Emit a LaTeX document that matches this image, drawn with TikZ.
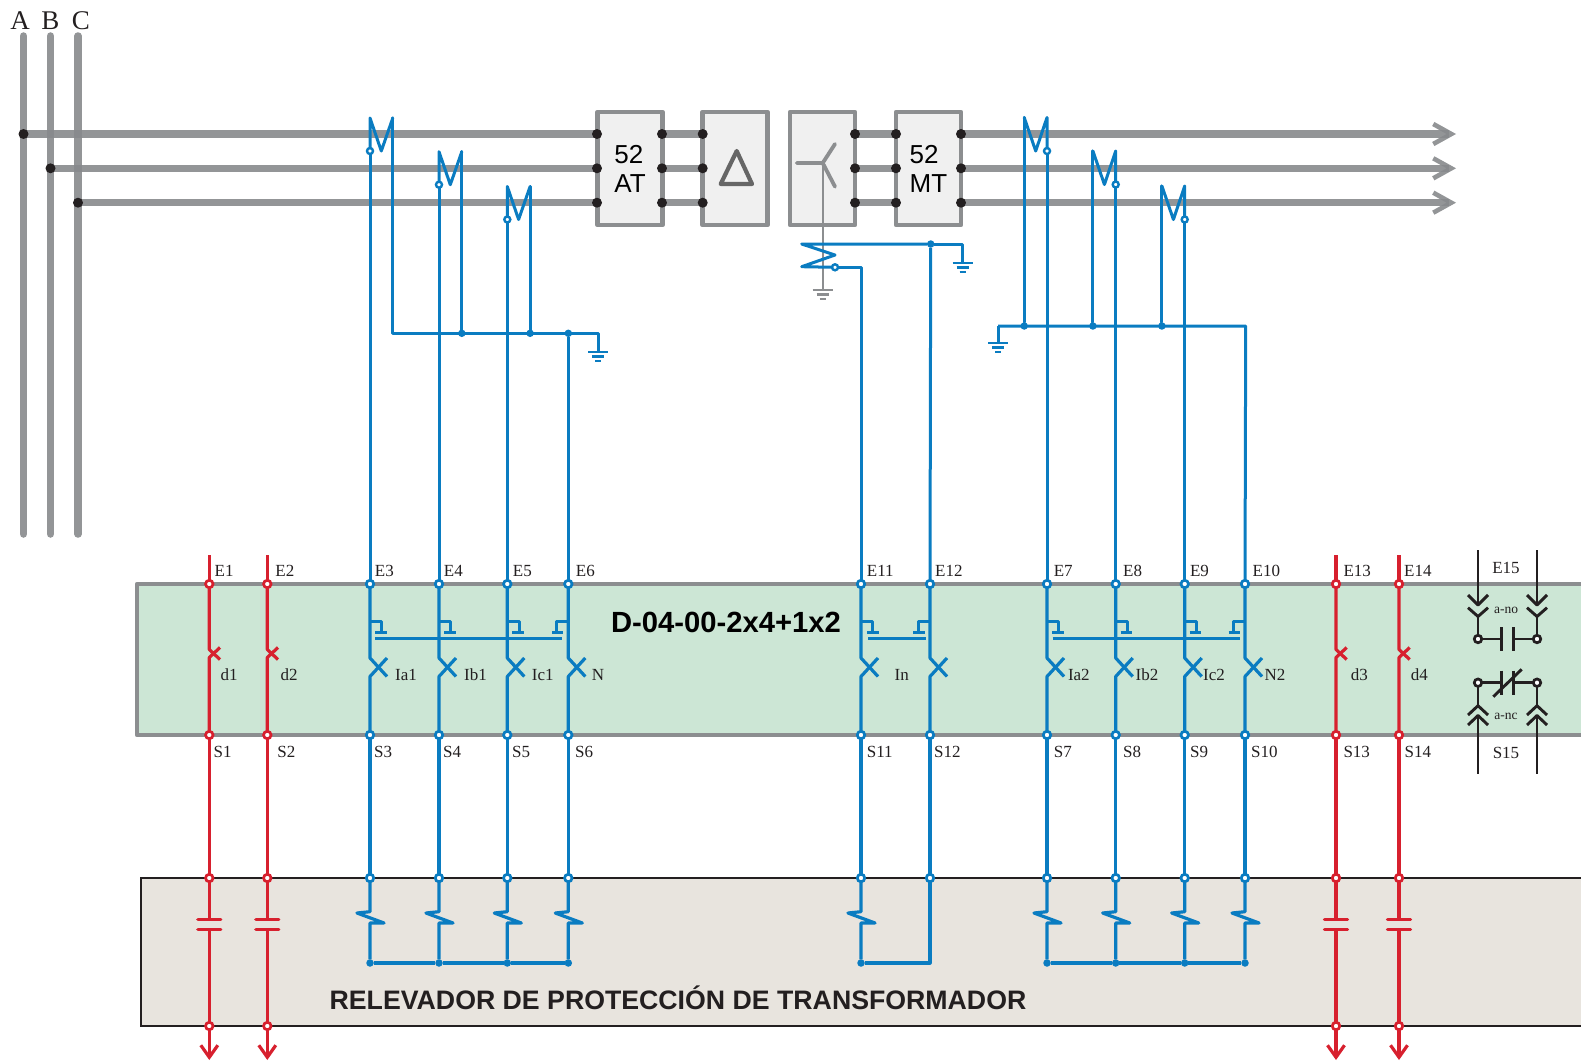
\documentclass[tikz,border=0pt]{standalone}
\usepackage{fontspec}
\setmainfont{Liberation Serif}
\newfontfamily\labelsans{Liberation Sans}
\usetikzlibrary{arrows.meta}
\definecolor{busgray}{HTML}{87898C}
\definecolor{boxgray}{HTML}{8C8E90}
\definecolor{blueline}{HTML}{0A7CC1}
\definecolor{redline}{HTML}{D7202E}
\definecolor{greenbox}{HTML}{CCE6D5}
\definecolor{relaybox}{HTML}{E8E4DE}
\definecolor{inkblack}{HTML}{231F20}
\tikzset{
  bus/.style={busgray, line width=7.5pt, opacity=0.9},
  breakerbox/.style={draw=boxgray, fill=gray!12, line width=4.4pt, line join=round},
  bdot/.style={circle, fill=inkblack, inner sep=0pt, outer sep=0pt, minimum size=10pt},
  sdot/.style={circle, fill=blueline, inner sep=0pt, outer sep=0pt, minimum size=7.5pt},
  bterm/.style={circle, draw=blueline, fill=white, line width=2.7pt, inner sep=0pt, outer sep=0pt, minimum size=7.5pt},
  rterm/.style={circle, draw=redline, fill=white, line width=2.7pt, inner sep=0pt, outer sep=0pt, minimum size=7.5pt},
  kterm/.style={circle, draw=inkblack, fill=white, line width=2.7pt, inner sep=0pt, outer sep=0pt, minimum size=7.5pt},
  bwire/.style={blueline, line width=3.2pt, line join=round},
  bthin/.style={blueline, line width=3pt, line join=round},
  rwire/.style={redline, line width=3.2pt, line join=round},
  kwire/.style={inkblack, line width=2.9pt, line join=round},
  lab/.style={font=\fontsize{17}{18}\selectfont, text=inkblack, inner sep=0pt, anchor=west},
  ctr/.style={font=\fontsize{17}{18}\selectfont, text=inkblack, inner sep=0pt},
  small/.style={font=\fontsize{13.5}{15}\selectfont, text=inkblack, inner sep=0pt}
}
\begin{document}
\begin{tikzpicture}[x=1pt, y=-1pt]
\useasboundingbox (0,0) rectangle (1581,1062);
% relay panels
\fill[greenbox] (137,584) rectangle (1581,735);
\draw[boxgray, line width=4.6pt, line join=round] (1581,584) -- (137,584) -- (137,735) -- (1581,735);
\fill[relaybox] (141,878) rectangle (1581,1026);
\draw[inkblack, line width=2.2pt] (1581,878) -- (141,878) -- (141,1026) -- (1581,1026);
% phases
\foreach \x in {23.5, 50.5, 78}
  \draw[bus, line cap=round] (\x,36) -- (\x,534);
\node[font=\fontsize{27}{28}\selectfont, text=inkblack, inner sep=0pt] (phA) at (20,20.5) {A};
\node[font=\fontsize{27}{28}\selectfont, text=inkblack, inner sep=0pt] (phB) at (50.5,20.5) {B};
\node[font=\fontsize{27}{28}\selectfont, text=inkblack, inner sep=0pt] (phC) at (81,20.5) {C};
% breakers and transformer
\node[breakerbox, minimum width=65pt, minimum height=113pt, inner sep=0pt, font=\labelsans\fontsize{26}{29}\selectfont, align=left] (at) at (630,168.5) {52\\AT};
\node[breakerbox, minimum width=65pt, minimum height=113pt] (dy) at (735,168.5) {};
\node[breakerbox, minimum width=65pt, minimum height=113pt] (st) at (822.5,168.5) {};
\node[breakerbox, minimum width=65pt, minimum height=113pt, inner sep=0pt, font=\labelsans\fontsize{26}{29}\selectfont, align=left] (mt) at (928.5,168.5) {52\\MT};
\draw[black!60, line width=4.2pt, line join=round] (736.7,151) -- (752,184) -- (720.7,184) -- cycle;
\draw[boxgray, line width=2.4pt] (822.7,163) -- (822.7,290);
\draw[boxgray, line width=3.8pt, line cap=round] (796.7,163) -- (822.7,163) -- (835,144) (822.7,163) -- (835,186.7);
% bus bars
\foreach \n/\y/\x in {1/134/23.5, 2/168.3/50.5, 3/202.7/78} {
  \coordinate (ph\n) at (\x,\y);
  \coordinate (atl\n) at (597,\y);
  \coordinate (atr\n) at (662,\y);
  \coordinate (dyl\n) at (702.7,\y);
  \coordinate (str\n) at (855,\y);
  \coordinate (mtl\n) at (896,\y);
  \coordinate (mtr\n) at (961,\y);
  \coordinate (end\n) at (1456,\y);
  \draw[bus] (ph\n) -- (atl\n);
  \draw[bus] (atr\n) -- (dyl\n);
  \draw[bus] (str\n) -- (mtl\n);
  \draw[busgray, line width=7pt, opacity=0.9, -{Straight Barb[length=18pt, width=20pt, line width=4.6pt]}] (mtr\n) -- (end\n);
  \foreach \d in {ph, atl, atr, dyl, str, mtl, mtr}
    \node[bdot] (dot\d\n) at (\d\n) {};
}
% terminals
\foreach \n/\x in {3/370, 4/439, 5/507.3, 6/568.3, 11/861, 12/930, 7/1047, 8/1115.7, 9/1184.7, 10/1245} {
  \node[bterm] (E\n) at (\x,584) {};
  \node[bterm] (S\n) at (\x,735) {};
  \node[bterm] (T\n) at (\x,878) {};
  \draw[bwire] (E\n) -- (\x,658) -- (\x+17,676.5);
  \draw[bwire] (\x+17,658) -- (\x,676.5) -- (S\n);
  \draw[bwire] (S\n) -- (T\n);
}
\foreach \n/\x in {1/209.3, 2/267.3, 13/1336, 14/1399} {
  \node[rterm] (E\n) at (\x,584) {};
  \node[rterm] (S\n) at (\x,735) {};
  \node[rterm] (T\n) at (\x,878) {};
  \node[rterm] (B\n) at (\x,1026) {};
  \coordinate (in\n) at (\x,555);
  \coordinate (out\n) at (\x,1060);
  \draw[rwire] (in\n) -- (E\n);
  \draw[rwire] (E\n) -- (\x,649.5) -- (\x+10.7,659.5);
  \draw[rwire] (\x+10.7,647.5) -- (\x,657.5) -- (S\n);
  \draw[rwire] (S\n) -- (T\n);
  \draw[rwire] (T\n) -- (\x,919.3);
  \draw[rwire, line cap=round] (\x-11.5,919.3) -- (\x+11.5,919.3) (\x-11.5,929.3) -- (\x+11.5,929.3);
  \draw[rwire] (\x,929.3) -- (B\n);
  \draw[rwire, -{Straight Barb[length=12pt, width=17pt]}] (B\n) -- (out\n);
}
% test blocks
\foreach \n/\x in {3/370, 4/439, 5/507.3} {
  \draw[bthin] (\x,621.7) -- (\x+11.7,621.7) -- (\x+11.7,632.7);
  \draw[bthin] (\x+5,632.7) -- (\x+16.7,632.7);
}
\draw[bthin] (568.3,621.7) -- (556.7,621.7) -- (556.7,632.7);
\draw[bthin] (552,632.7) -- (563,632.7);
\draw[bwire] (375,638.7) -- (562.3,638.7);
\draw[bthin] (861,621.7) -- (872.7,621.7) -- (872.7,632.7);
\draw[bthin] (867,632.7) -- (878.7,632.7);
\draw[bthin] (930,621.7) -- (918.3,621.7) -- (918.3,632.7);
\draw[bthin] (913,632.7) -- (925,632.7);
\draw[bwire] (868,638.7) -- (926,638.7);
\foreach \n/\x in {7/1047, 8/1115.7, 9/1184.7} {
  \draw[bthin] (\x,621.7) -- (\x+11.7,621.7) -- (\x+11.7,632.7);
  \draw[bthin] (\x+5,632.7) -- (\x+16.7,632.7);
}
\draw[bthin] (1245,621.7) -- (1233.3,621.7) -- (1233.3,632.7);
\draw[bthin] (1228.5,632.7) -- (1240,632.7);
\draw[bwire] (1052.7,638.7) -- (1240,638.7);
% current transformers, high side
\foreach \n/\x/\y in {3/370/118, 4/439/151.7, 5/507.3/186.5} {
  \node[bterm, minimum size=6pt, line width=2.4pt] (ct\n) at (\x,\y+33) {};
  \draw[bthin] (ct\n) -- (E\n);
  \draw[bthin, line cap=round] (ct\n) -- (\x,\y) -- (\x+11.3,\y+33) -- (\x+22.8,\y);
  \coordinate (cr\n) at (\x+22.8,333.3);
  \draw[bthin, line cap=round] (\x+22.8,\y) -- (cr\n);
}
\coordinate (gh) at (598,333.3);
\node[sdot] (jh) at (568.3,333.3) {};
\node[sdot] (jh4) at (cr4) {};
\node[sdot] (jh5) at (cr5) {};
\draw[bthin] (cr3) -- (gh) -- (598,352);
\draw[bthin] (jh) -- (E6);
% current transformers, low side
\foreach \n/\x/\y in {7/1047/117.5, 8/1115.7/151, 9/1184.7/186} {
  \node[bterm, minimum size=6pt, line width=2.4pt] (ct\n) at (\x,\y+33.5) {};
  \draw[bthin] (ct\n) -- (E\n);
  \draw[bthin, line cap=round] (ct\n) -- (\x,\y) -- (\x-11.3,\y+33.5) -- (\x-22.8,\y);
  \node[sdot] (cl\n) at (\x-22.8,326) {};
  \draw[bthin, line cap=round] (\x-22.8,\y) -- (cl\n);
}
\coordinate (gl) at (998,326);
\coordinate (cn) at (1245.7,326);
\draw[bthin] (gl) -- (cn) -- (E10);
\draw[bthin] (gl) -- (998,343);
% neutral current transformer
\node[bterm, minimum size=6pt, line width=2.4pt] (ctn) at (835,267.3) {};
\node[sdot] (jn) at (930.7,244) {};
\coordinate (gn) at (962.7,244);
\draw[bthin, line cap=round] (jn) -- (801.7,244) -- (835,255) -- (801.7,266.7) -- (ctn);
\draw[bthin] (ctn) -- (861,267.3) -- (E11);
\draw[bthin] (jn) -- (gn) -- (962.7,263);
\draw[bthin] (jn) -- (E12);
% grounds
\foreach \x/\y/\c in {598/352/blueline, 998/343/blueline, 962.7/263/blueline, 822.7/290/boxgray}
  \draw[\c, line width=2.4pt] (\x-10,\y) -- (\x+10,\y) (\x-6,\y+4.6) -- (\x+6,\y+4.6) (\x-3,\y+9) -- (\x+3,\y+9);
% resistive burdens
\foreach \n/\x in {3/370, 4/439, 5/507.3, 6/568.3, 11/861, 7/1047, 8/1115.7, 9/1184.7, 10/1245} {
  \node[sdot] (R\n) at (\x,963) {};
  \draw[bwire] (T\n) -- (\x,911.7) -- (\x-13,913) -- (\x+14,923) -- (\x,923) -- (R\n);
}
\draw[bwire] (R3) -- (R4);
\draw[bwire] (R4) -- (R5);
\draw[bwire] (R5) -- (R6);
\coordinate (R12) at (930,963);
\draw[bwire] (R11) -- (R12) -- (T12);
\draw[bwire] (R7) -- (R8);
\draw[bwire] (R8) -- (R9);
\draw[bwire] (R9) -- (R10);
% contacts
\foreach \n/\x in {a/1478, b/1537} {
  \node[kterm] (no\n) at (\x,639) {};
  \node[kterm] (nc\n) at (\x,682.7) {};
  \draw[kwire] (\x,550) -- (\x,605);
  \draw[kwire] (\x-10,595) -- (\x,605) -- (\x+10,595);
  \draw[kwire] (\x-10,607.7) -- (\x,616.5) -- (\x+10,607.7);
  \draw[kwire] (\x,616.5) -- (no\n);
  \draw[kwire] (nc\n) -- (\x,705.7);
  \draw[kwire] (\x-10,715) -- (\x,705.7) -- (\x+10,715);
  \draw[kwire] (\x-10,725) -- (\x,715.5) -- (\x+10,725);
  \draw[kwire] (\x,715.5) -- (\x,774);
}
\draw[kwire] (noa) -- (1501.7,639);
\draw[kwire] (1501.7,627.3) -- (1501.7,651) (1513.3,627.3) -- (1513.3,651);
\draw[kwire] (1513.3,639) -- (nob);
\draw[kwire] (nca) -- (1501.7,682.7);
\draw[kwire] (1501.7,670.7) -- (1501.7,695) (1513.3,670.7) -- (1513.3,695);
\draw[kwire] (1513.3,682.7) -- (ncb);
\draw[kwire] (1493.3,696.7) -- (1521.7,669.3);
% labels
\foreach \n/\x in {1/214.5, 2/275.2, 3/374.7, 4/443.7, 5/512.7, 6/575.7, 11/866.7, 12/935, 7/1053.6, 8/1123, 9/1189.8, 10/1252.5, 13/1343.3, 14/1404}
  \node[lab] (lE\n) at (\x,571) {E\n};
\foreach \n/\x in {1/213.5, 2/277.2, 3/374, 4/443, 5/512, 6/575, 11/866.7, 12/934, 7/1053.6, 8/1123, 9/1190, 10/1251, 13/1343.3, 14/1404.5}
  \node[lab] (lS\n) at (\x,752) {S\n};
\foreach \t/\x in {d1/229, d2/289, d3/1359.3, d4/1419.3, In/901.7}
  \node[ctr] (l\t) at (\x,675) {\t};
\foreach \t/\x in {Ia1/395, Ib1/464, Ic1/531.7, N/591.7, Ia2/1067.8, Ib2/1135.4, Ic2/1203, N2/1264.4}
  \node[lab] (l\t) at (\x,675) {\t};
\node[ctr] (lE15) at (1506,568) {E15};
\node[ctr] (lS15) at (1506,752.7) {S15};
\node[small] (lno) at (1506,610.7) {a-no};
\node[small] (lnc) at (1506,716.7) {a-nc};
\node[inner sep=0pt, font=\labelsans\bfseries\fontsize{29.2}{32}\selectfont, text=black] (ref) at (726,622.5) {D-04-00-2x4+1x2};
\node[inner sep=0pt, font=\labelsans\bfseries\fontsize{26.7}{30}\selectfont, text=inkblack] (relay) at (678,998) {RELEVADOR DE PROTECCIÓN DE TRANSFORMADOR};
\end{tikzpicture}
\end{document}
